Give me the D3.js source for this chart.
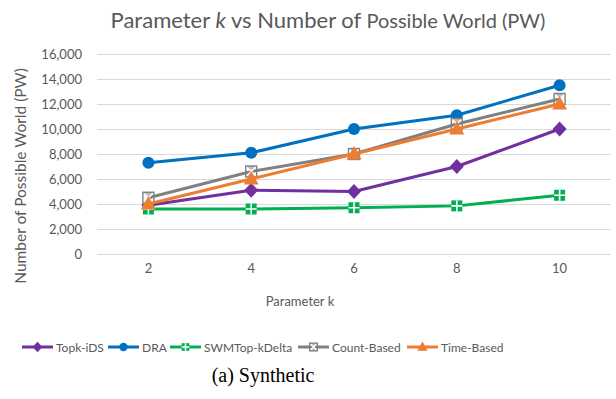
<!DOCTYPE html>
<html>
<head>
<meta charset="utf-8">
<script src="https://cdn.jsdelivr.net/npm/d3@7"></script>
<style>
  html, body { margin: 0; padding: 0; background: #fff; }
  svg { display: block; font-family: Lato, "Open Sans", sans-serif; }
</style>
</head>
<body>
<svg id="chart" width="616" height="399"></svg>
<script>
// Parameter k on the x axis, number of possible worlds on the y axis
const categories = ["2", "4", "6", "8", "10"];
const yTicks = [0, 2000, 4000, 6000, 8000, 10000, 12000, 14000, 16000];

const seriesNames = ["Topk-iDS", "DRA", "SWMTop-kDelta", "Count-Based", "Time-Based"];
const topkIDS      = [3900, 5100, 5000, 7000, 10000];
const dra          = [7300, 8100, 10000, 11100, 13500];
const swmTopKDelta = [3600, 3600, 3700, 3850, 4700];
const countBased   = [4500, 6600, 8000, 10400, 12400];
const timeBased    = [4000, 6000, 8000, 10000, 12000];

const colors  = ["#7030A0", "#0070C0", "#00B050", "#808080", "#ED7D31"];
const markers = ["diamond", "circle", "plusSquare", "xSquare", "triangle"];
const values  = [topkIDS, dra, swmTopKDelta, countBased, timeBased];

const series = seriesNames.map((name, i) => ({
  name, color: colors[i], marker: markers[i],
  points: categories.map((c, j) => ({ cat: c, v: values[i][j] }))
}));

const svg = d3.select("#chart");
const plot = { left: 97, right: 611, top: 54, bottom: 254 };

const x = d3.scaleBand().domain(categories).range([plot.left, plot.right]);
const y = d3.scaleLinear().domain([0, 16000]).range([plot.bottom, plot.top]);
const cx = c => x(c) + x.bandwidth() / 2;

// Title
const title = svg.append("text")
  .attr("x", 328).attr("y", 28)
  .attr("text-anchor", "middle")
  .attr("fill", "#595959")
  .attr("font-size", 22);
title.append("tspan").text("Parameter ");
title.append("tspan").attr("font-style", "italic").text("k");
title.append("tspan").text(" vs Number of ");
title.append("tspan").attr("font-size", 20).text("Possible World (PW)");

// Horizontal gridlines
svg.append("g")
  .selectAll("line")
  .data(yTicks)
  .join("line")
  .attr("x1", plot.left).attr("x2", plot.right)
  .attr("y1", d => Math.round(y(d)) + 0.5).attr("y2", d => Math.round(y(d)) + 0.5)
  .attr("stroke", "#d9d9d9").attr("stroke-width", 1);

// Y axis labels
const yAxis = svg.append("g")
  .attr("transform", `translate(${plot.left - 15},0)`)
  .call(d3.axisLeft(y).tickValues(yTicks).tickFormat(d3.format(",")).tickSize(0).tickPadding(0));
yAxis.select(".domain").remove();
yAxis.selectAll("text")
  .attr("fill", "#595959").attr("font-size", 13)
  .attr("font-family", "Lato, 'Open Sans', sans-serif");

// X axis labels
const xAxis = svg.append("g")
  .attr("transform", `translate(0,${plot.bottom + 10})`)
  .call(d3.axisBottom(x).tickSize(0).tickPadding(0));
xAxis.select(".domain").remove();
xAxis.selectAll("text")
  .attr("fill", "#595959").attr("font-size", 13)
  .attr("font-family", "Lato, 'Open Sans', sans-serif");

// Axis titles
svg.append("text")
  .attr("transform", "translate(26,176) rotate(-90)")
  .attr("text-anchor", "middle")
  .attr("fill", "#595959").attr("font-size", 15.5)
  .text("Number of Possible World (PW)");

svg.append("text")
  .attr("x", 300).attr("y", 306)
  .attr("text-anchor", "middle")
  .attr("fill", "#595959").attr("font-size", 13)
  .text("Parameter k");

// Marker drawing
function drawMarker(g, type, color, size) {
  const s = size;
  if (type === "circle") {
    g.append("circle").attr("r", s * 0.6).attr("fill", color);
  } else if (type === "diamond") {
    g.append("path").attr("d", `M0,${-s * 0.75}L${s * 0.7},0L0,${s * 0.75}L${-s * 0.7},0Z`).attr("fill", color);
  } else if (type === "triangle") {
    g.append("path").attr("d", `M0,${-s * 0.8}L${s * 0.75},${s * 0.55}L${-s * 0.75},${s * 0.55}Z`).attr("fill", color);
  } else if (type === "plusSquare") {
    const h = s * 0.55;
    g.append("rect").attr("x", -h).attr("y", -h).attr("width", 2 * h).attr("height", 2 * h).attr("fill", color);
    g.append("path").attr("d", `M0,${-h}V${h}M${-h},0H${h}`).attr("stroke", "#fff").attr("stroke-width", 1.6);
  } else if (type === "xSquare") {
    const h = s * 0.55;
    g.append("path").attr("d", `M${-h},${-h}H${h}L0,0Z M${-h},${h}H${h}L0,0Z`).attr("fill", "#bdbdbd");
    g.append("path").attr("d", `M${-h},${-h}L${h},${h}M${h},${-h}L${-h},${h}`).attr("stroke", "#fff").attr("stroke-width", 1.4);
    g.append("rect").attr("x", -h).attr("y", -h).attr("width", 2 * h).attr("height", 2 * h)
      .attr("fill", "none").attr("stroke", color).attr("stroke-width", 1.4);
  }
}

// Lines and markers
const line = d3.line().x(d => cx(d.cat)).y(d => y(d.v));
const seriesG = svg.append("g").selectAll("g").data(series).join("g");
seriesG.append("path")
  .attr("d", d => line(d.points))
  .attr("fill", "none")
  .attr("stroke", d => d.color)
  .attr("stroke-width", 3)
  .attr("stroke-linejoin", "round");
seriesG.each(function (s) {
  d3.select(this).selectAll("g.pt").data(s.points).join("g")
    .attr("class", "pt")
    .attr("transform", d => `translate(${cx(d.cat)},${y(d.v)})`)
    .each(function () { drawMarker(d3.select(this), s.marker, s.color, 10); });
});

// Legend
const legendX = [22, 108, 170, 298, 407];
const legend = svg.append("g").selectAll("g").data(series).join("g")
  .attr("transform", (d, i) => `translate(${legendX[i]},347)`);
legend.append("line")
  .attr("x1", 0).attr("x2", 31).attr("y1", 0).attr("y2", 0)
  .attr("stroke", d => d.color).attr("stroke-width", 3);
legend.append("g").attr("transform", "translate(15.5,0)")
  .each(function (d) { drawMarker(d3.select(this), d.marker, d.color, 7); });
legend.append("text")
  .attr("x", 34).attr("y", 4.5)
  .attr("fill", "#595959").attr("font-size", 12)
  .text(d => d.name);

// Caption
svg.append("text")
  .attr("x", 263).attr("y", 382)
  .attr("text-anchor", "middle")
  .attr("fill", "#000")
  .style("font-family", "'Liberation Serif', 'Times New Roman', serif")
  .attr("font-size", 20)
  .text("(a) Synthetic");
</script>
</body>
</html>
